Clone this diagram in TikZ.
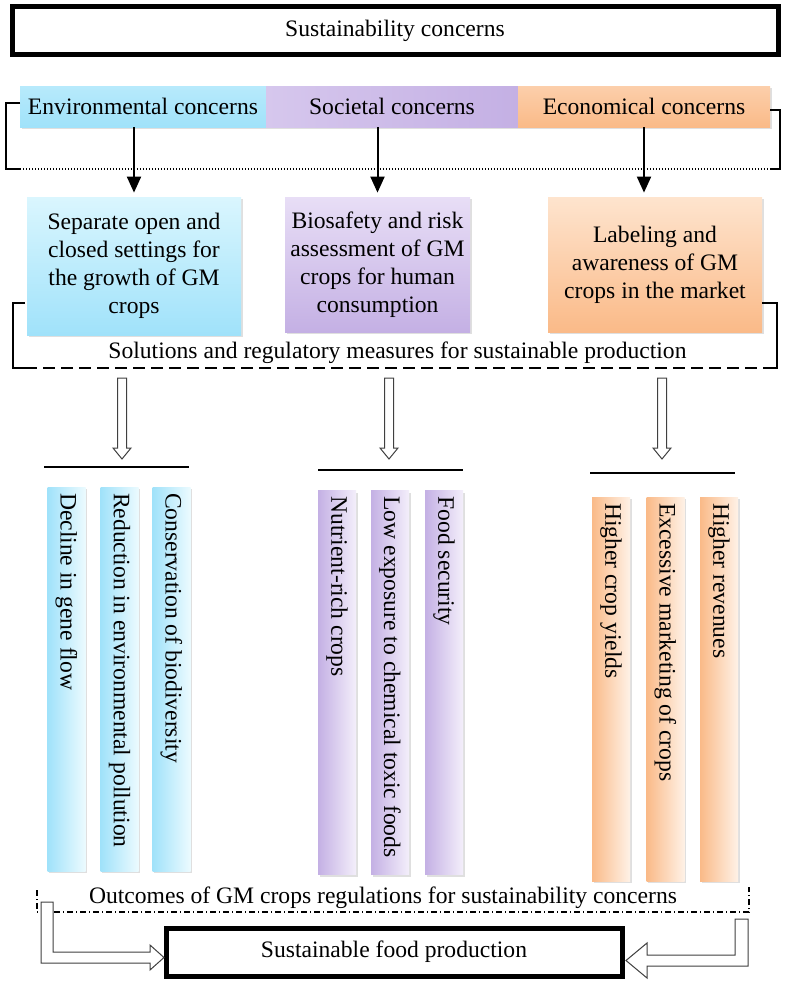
\documentclass[tikz,border=0pt]{standalone}
\usepackage{fontspec}
\setmainfont{Liberation Serif}
\usetikzlibrary{arrows.meta}
\usetikzlibrary{shadows}

\definecolor{envdark}{RGB}{160,226,250}
\definecolor{envlight}{RGB}{218,246,254}
\definecolor{socdark}{RGB}{196,176,228}
\definecolor{soclight}{RGB}{232,222,246}
\definecolor{ecodark}{RGB}{250,186,136}
\definecolor{ecolight}{RGB}{254,228,206}

\tikzset{
  headbox/.style={draw, line width=2.5pt, fill=white, minimum height=24pt, inner sep=0pt},
  softshadow/.style={drop shadow={shadow xshift=0.8pt, shadow yshift=-1.2pt, opacity=0.25}},
  concern/.style={softshadow, minimum height=20.5pt, inner sep=0pt},
  measure/.style={softshadow, align=center, inner sep=0pt},
  bar/.style={softshadow, rotate=-90, minimum width=192pt, minimum height=19pt,
    text width=186pt, align=flush left, inner xsep=3pt, inner ysep=0pt},
  arr/.style={line width=1pt, -{Triangle[width=7pt,length=8pt]}, shorten >=2pt},
  bracket/.style={line width=0.9pt},
  hollow/.style={draw=black!75, line width=0.5pt, fill=white},
}

\begin{document}
\begin{tikzpicture}[x=0.5pt, y=-0.5pt, font=\fontsize{11.8}{14}\selectfont]

  \useasboundingbox (0,0) rectangle (787,981);

  % top box
  \node[headbox, minimum width=383pt] (sus) at (395,30.5) {Sustainability concerns};

  % concerns row
  \node[concern, top color=envlight!40!envdark, bottom color=envdark, minimum width=123pt] (env) at (143,106.5) {Environmental concerns};
  \node[concern, left color=soclight!50!socdark, right color=socdark, minimum width=126pt] (soc) at (392,106.5) {Societal concerns};
  \node[concern, top color=ecolight!50!ecodark, bottom color=ecodark, minimum width=126pt] (eco) at (644,106.5) {Economical concerns};

  % bracket under concerns
  \draw[bracket] (20,103) -- (6,103) -- (6,169) -- (20,169);
  \draw[line width=0.7pt, dash pattern=on 0.6pt off 0.9pt] (20,169) -- (770,169);
  \draw[bracket] (770,110) -- (780,110) -- (780,169) -- (770,169);

  % solutions
  \node[measure, top color=envlight, bottom color=envdark, minimum width=107pt, minimum height=69pt] (sep) at (134,266)
    {Separate open and\\closed settings for\\the growth of GM\\crops};
  \node[measure, top color=soclight, bottom color=socdark, minimum width=92.5pt, minimum height=67.5pt] (bio) at (377.5,264.5)
    {Biosafety and risk\\assessment of GM\\crops for human\\consumption};
  \node[measure, top color=ecolight, bottom color=ecodark, minimum width=107pt, minimum height=67.5pt] (lab) at (655,264.5)
    {Labeling and\\awareness of GM\\crops in the market};

  % black arrows
  \draw[arr] (sep.north |- env.south) -- (sep.north);
  \draw[arr] (bio.north |- soc.south) -- (bio.north);
  \draw[arr] (eco.south) -- (eco.south |- lab.north);

  % bracket under solutions
  \draw[bracket] (25,303) -- (13,303) -- (13,368) -- (25,368);
  \draw[bracket, dash pattern=on 6pt off 3pt] (25,368) -- (765,368);
  \draw[bracket] (765,368) -- (777,368) -- (777,303) -- (762,303);
  \node (sol) at (397.5,353) {Solutions and regulatory measures for sustainable production};

  % hollow arrows
  \foreach \x in {122,389,662}
    \draw[hollow] (\x-4.5,378) -- (\x+4.5,378) -- (\x+4.5,448) -- (\x+9,448) -- (\x,459)
      -- (\x-9,448) -- (\x-4.5,448) -- cycle;

  % lines above the bars
  \draw[line width=1pt] (44,467) -- (189,467);
  \draw[line width=1pt] (318,470) -- (463,470);
  \draw[line width=1pt] (590,473) -- (735,473);

  % outcome bars
  \foreach \x/\t [count=\i] in {66.5/Decline in gene flow, 119.5/Reduction in environmental pollution, 171.5/Conservation of biodiversity}
    \node[bar, left color=envdark, right color=envlight!50] (envbar\i) at (\x,679) {\t};
  \foreach \x/\t [count=\i] in {337/Nutrient-rich crops, 390/Low exposure to chemical toxic foods, 444/Food security}
    \node[bar, left color=socdark, right color=soclight!50] (socbar\i) at (\x,682.5) {\t};
  \foreach \x/\t [count=\i] in {611/Higher crop yields, 665.5/Excessive marketing of crops, 719/Higher revenues}
    \node[bar, left color=ecodark, right color=ecolight!50] (ecobar\i) at (\x,689) {\t};

  % bracket under outcomes
  \draw[line width=0.6pt, dash pattern=on 3pt off 1.5pt on 0.5pt off 1.5pt] (37,890) -- (37,912) -- (749,912) -- (749,887);
  \node (out) at (383,898) {Outcomes of GM crops regulations for sustainability concerns};

  % bottom box
  \node[headbox, minimum width=228pt] (food) at (394,952) {Sustainable food production};

  % elbow arrows
  \draw[hollow] (41,902) -- (53,902) -- (53,952) -- (150,952) -- (150,945) -- (164,957.5)
    -- (150,970) -- (150,963) -- (41,963) -- cycle;
  \draw[hollow] (748,919) -- (735,919) -- (735,955) -- (647,955) -- (647,943) -- (626,960.5)
    -- (647,978) -- (647,966) -- (748,966) -- cycle;

\end{tikzpicture}
\end{document}
